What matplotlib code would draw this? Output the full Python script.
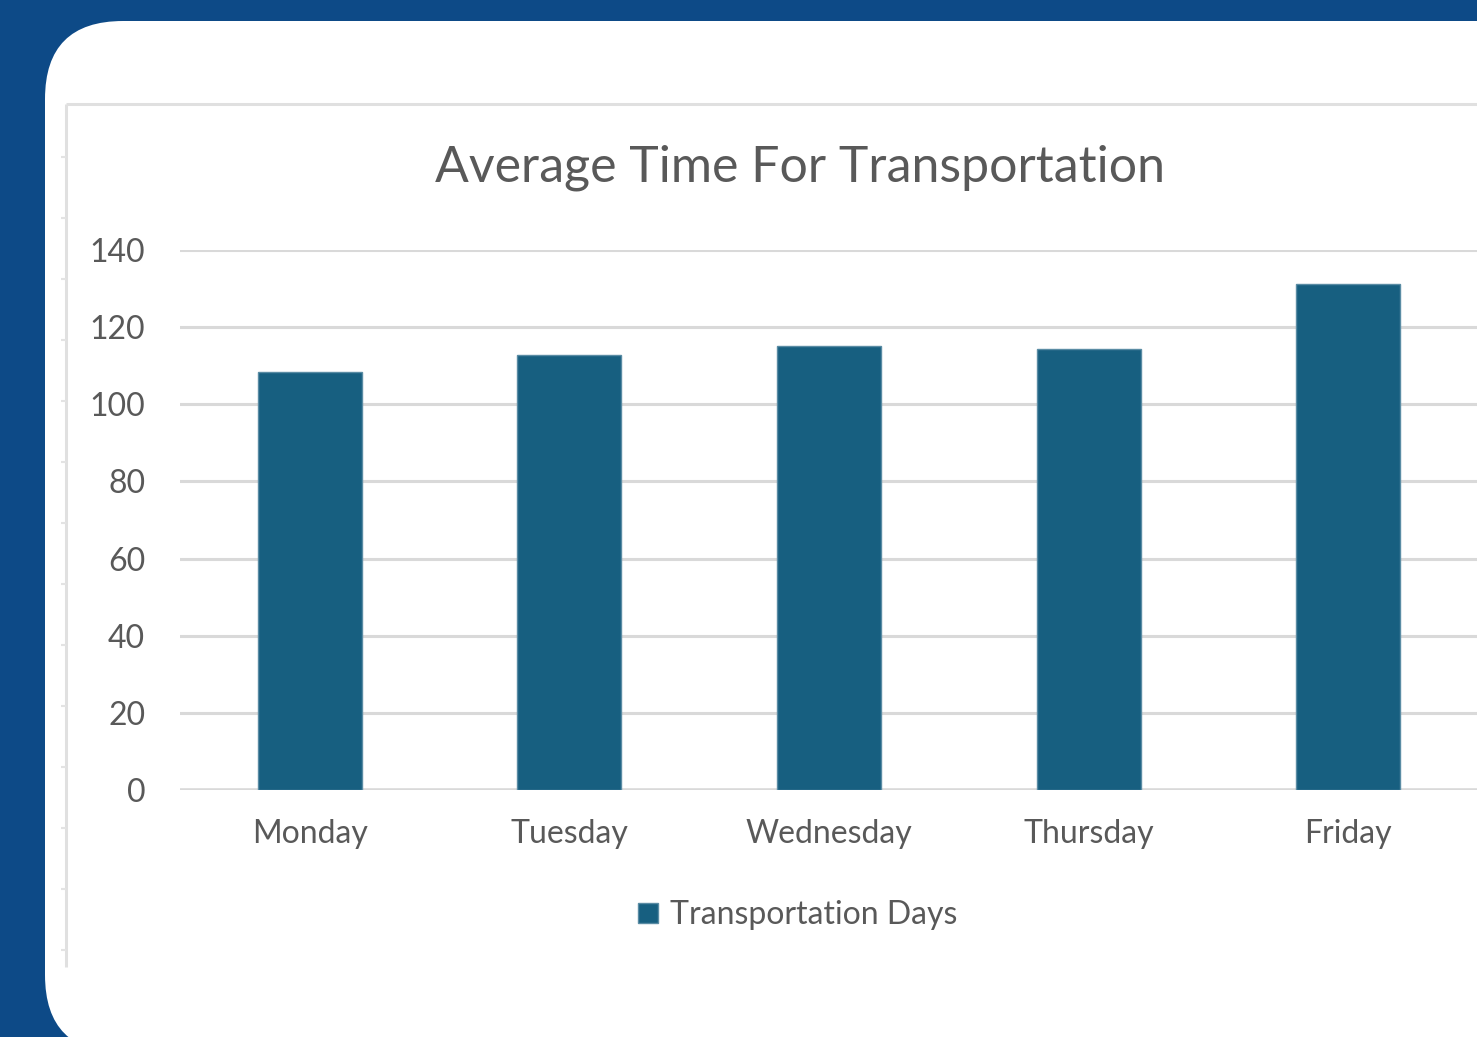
import matplotlib
matplotlib.use("Agg")
import matplotlib.pyplot as plt
from matplotlib.patches import FancyBboxPatch

# ---- data ----
days = ["Monday", "Tuesday", "Wednesday", "Thursday", "Friday"]
avg_time = [108.5, 112.8, 115.2, 114.3, 131.2]
y_ticks = [0, 20, 40, 60, 80, 100, 120, 140]
title = "Average Time For Transportation"
series_name = "Transportation Days"

W, H = 1477, 1037
BG = "#0d4a87"
BAR = "#175f80"
TXT = "#595959"
GRID = "#d9d9d9"

plt.rcParams["font.family"] = ["Lato", "DejaVu Sans"]

fig = plt.figure(figsize=(W / 100, H / 100), dpi=100)
fig.patch.set_facecolor(BG)

# pixel-space canvas for the card and the chart frame
bg = fig.add_axes([0, 0, 1, 1])
bg.set_xlim(0, W); bg.set_ylim(H, 0); bg.axis("off")
bg.add_patch(FancyBboxPatch((45, 21), 1700, 1032,
                            boxstyle="round,pad=0,rounding_size=78",
                            facecolor="white", edgecolor="none"))
# frame: only top and left edges are visible in the crop
bg.plot([66, W], [104, 104], color="#e0e0e0", lw=2.2, solid_capstyle="butt")
bg.plot([66, 66], [104, 967], color="#e0e0e0", lw=2.2, solid_capstyle="butt")
# little marks along the frame's left side
for yy in range(157, 967, 61):
    bg.plot([61, 66], [yy, yy], color="#e3e3e3", lw=1.5, solid_capstyle="butt")


def px(x, y):
    return x / W, 1 - y / H


# main plot area: x 180 -> ~1478, y 0 at 790, 140 at 250
ax = fig.add_axes([180 / W, (H - 790) / H, (1478 - 180) / W, (790 - 250) / H])
ax.set_facecolor("none")
xs = range(len(days))
ax.bar(xs, avg_time, width=0.4, color=BAR, edgecolor="#5a8ca4", linewidth=1.0,
       zorder=3, label=series_name)
ax.set_xlim(-0.5, 4.5)
ax.set_ylim(0, 140)
ax.set_yticks(y_ticks)
ax.set_xticks(list(xs))
ax.set_xticklabels(days)
ax.grid(axis="y", color=GRID, linewidth=2.2, zorder=0)
ax.tick_params(axis="both", length=0, labelsize=23, labelcolor=TXT)
ax.tick_params(axis="y", pad=25)
ax.tick_params(axis="x", pad=21)
for s in ax.spines.values():
    s.set_visible(False)
ax.axhline(0, color=GRID, linewidth=2.6, zorder=2)

fig.text(*px(800, 168), title, ha="center", va="center", fontsize=36, color=TXT)

leg = fig.legend(loc="center", bbox_to_anchor=px(798, 915), frameon=False,
                 fontsize=23, handlelength=0.6, handleheight=0.6,
                 handletextpad=0.4, labelcolor=TXT)

fig.savefig("out.png", dpi=100, facecolor=BG)
